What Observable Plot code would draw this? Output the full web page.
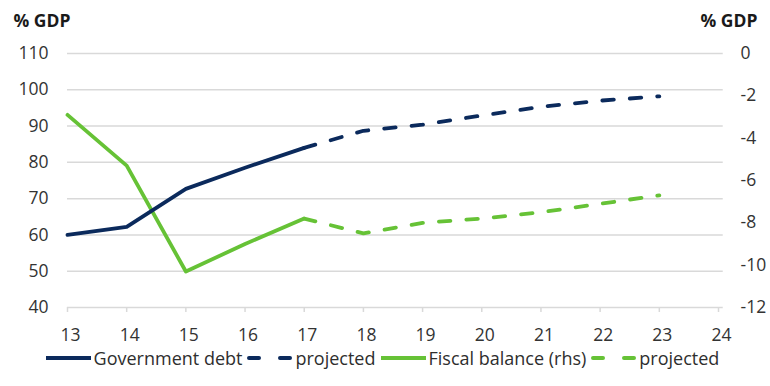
<!DOCTYPE html>
<html><head><meta charset="utf-8">
<script src="https://cdn.jsdelivr.net/npm/d3@7"></script>
<script src="https://cdn.jsdelivr.net/npm/@observablehq/plot@0.6"></script>
<style>
html,body{margin:0;padding:0;background:#fff;}
body{width:770px;height:386px;overflow:hidden;font-family:"Open Sans",sans-serif;}
#legend{display:flex;justify-content:center;align-items:center;height:18px;font-size:18px;color:#2e2e2e;}
#legend .item{display:flex;align-items:center;margin-right:5px;}
#legend svg{margin-right:3px;}
</style></head>
<body><div id="chart"></div><div id="legend"></div>
<script>
const actualYears = [13, 14, 15, 16, 17];
const projectedYears = [17, 18, 19, 20, 21, 22, 23];
const debtActual = [60.0, 62.2, 72.7, 78.5, 84.0];
const debtProjected = [84.0, 88.7, 90.4, 92.9, 95.3, 97.0, 98.2];
const balanceActual = [-2.9, -5.3, -10.3, -9.0, -7.8];
const balanceProjected = [-7.8, -8.5, -8.0, -7.8, -7.5, -7.1, -6.7];
const xTicks = [13, 14, 15, 16, 17, 18, 19, 20, 21, 22, 23, 24];
const leftTicks = [40, 50, 60, 70, 80, 90, 100, 110];
const rightTicks = [0, -2, -4, -6, -8, -10, -12];
const leftTitle = "% GDP";
const rightTitle = "% GDP";
const legendLabels = ["Government debt", "projected", "Fiscal balance (rhs)", "projected"];

const navy = "#0b2a5c";
const green = "#66c236";
const grid = "#d9d9d9";
const dash = "11.5,16";
const textColor = "#333";

// map right-axis (fiscal balance) values onto the left scale
const toLeft = v => 110 + v * 70 / 12;
const fromLeft = y => (y - 110) * 12 / 70;

const rows = (xs, vs, f = d => d) => xs.map((x, i) => ({year: x, value: f(vs[i])}));

const chart = Plot.plot({
  width: 770, height: 349,
  marginTop: 53, marginBottom: 42, marginLeft: 67, marginRight: 52,
  x: {domain: [13, 24]},
  y: {domain: [40, 110]},
  style: {fontFamily: "Open Sans", fontSize: "17.5px", color: textColor, background: "#fff"},
  marks: [
    Plot.ruleY(leftTicks, {x1: 13, x2: 24.08, stroke: grid, strokeWidth: 1.5}),
    Plot.axisX(xTicks, {tickSize: 5, stroke: grid, strokeWidth: 1.5, tickFormat: () => "", label: null}),
    Plot.axisX(xTicks, {tickSize: 0, tickPadding: 21, dx: 3, label: null, fill: textColor}),
    Plot.axisY(leftTicks, {anchor: "left", tickSize: 0, tickPadding: 19, label: null, fill: textColor}),
    Plot.axisY(rightTicks.map(toLeft), {anchor: "right", tickSize: 0, tickPadding: 22, label: null,
      tickFormat: d => String(Math.round(fromLeft(d))), textAnchor: "start", fill: textColor}),
    Plot.line(rows(actualYears, balanceActual, toLeft), {x: "year", y: "value", stroke: green, strokeWidth: 3.8}),
    Plot.line(rows(projectedYears, balanceProjected, toLeft), {x: "year", y: "value", stroke: green, strokeWidth: 3.8, strokeDasharray: dash, strokeLinecap: "round"}),
    Plot.line(rows(actualYears, debtActual), {x: "year", y: "value", stroke: navy, strokeWidth: 3.8}),
    Plot.line(rows(projectedYears, debtProjected), {x: "year", y: "value", stroke: navy, strokeWidth: 3.8, strokeDasharray: dash, strokeLinecap: "round"}),
    Plot.text([leftTitle], {frameAnchor: "top-left", dx: -54, dy: -32, text: d => d, textAnchor: "start", lineAnchor: "middle", fontWeight: "bold", fontSize: 17.5, fill: "#1a1a1a"}),
    Plot.text([rightTitle], {frameAnchor: "top-right", dx: -18, dy: -32, text: d => d, textAnchor: "start", lineAnchor: "middle", fontWeight: "bold", fontSize: 17.5, fill: "#1a1a1a"})
  ]
});
document.getElementById("chart").appendChild(chart);

const legendColors = [navy, navy, green, green];
const legendDashed = [false, true, false, true];
const legend = document.getElementById("legend");
legendLabels.forEach((label, i) => {
  const item = document.createElement("div");
  item.className = "item";
  const da = legendDashed[i] ? ' stroke-dasharray="10,21" stroke-linecap="round"' : '';
  const x1 = legendDashed[i] ? 2 : 0, x2 = legendDashed[i] ? 43 : 45;
  item.innerHTML = `<svg width="45" height="10"><line x1="${x1}" y1="5" x2="${x2}" y2="5" stroke="${legendColors[i]}" stroke-width="4"${da}/></svg><span>${label}</span>`;
  legend.appendChild(item);
});
</script>
</body></html>
